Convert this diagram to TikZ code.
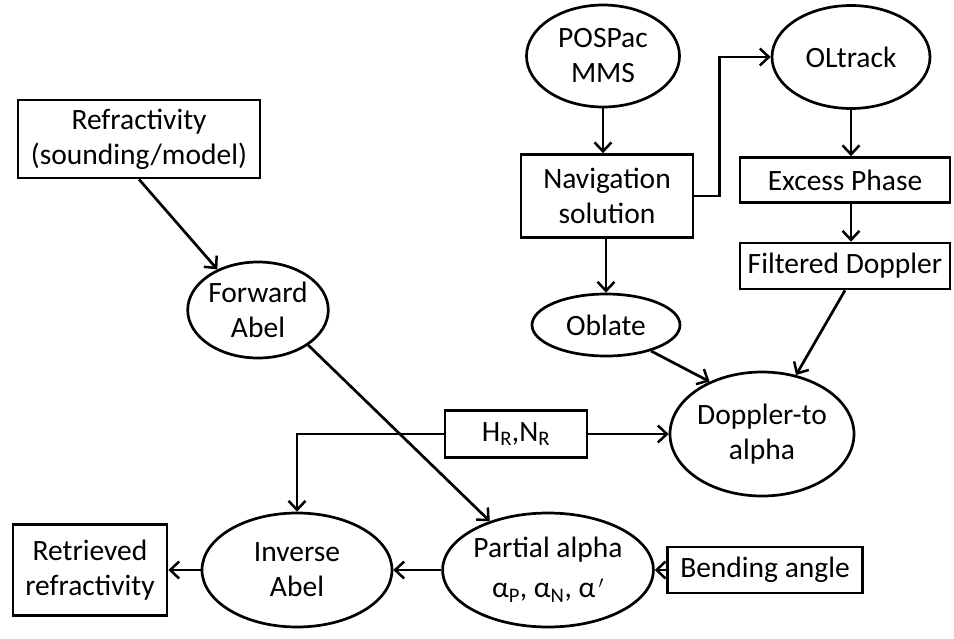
\documentclass[tikz,border=0pt]{standalone}
\usepackage{fontspec}
\setmainfont{Carlito}
\usetikzlibrary{shapes.geometric,arrows.meta}
\begin{document}
\begin{tikzpicture}[x=1pt,y=-1pt,
  every node/.style={font=\fontsize{29.5}{35}\selectfont, align=center, inner sep=0pt, line width=2.7pt, draw},
  boxnode/.style={rectangle},
  ellnode/.style={ellipse},
  arr/.style={line width=2.7pt, -{Straight Barb[length=9pt,width=17pt,line width=2.5pt]}}]
\useasboundingbox (0,0) rectangle (954,638);
\node[boxnode, minimum width=242pt, minimum height=78pt] (refr) at (139,139) {Refractivity\\(sounding/model)};
\node[ellnode, minimum width=140pt, minimum height=96pt] (fwd) at (258,310) {Forward\\Abel};
\node[ellnode, minimum width=153pt, minimum height=102pt] (pos) at (603,56) {POSPac\\MMS};
\node[ellnode, minimum width=158pt, minimum height=103pt] (olt) at (851,57) {OLtrack};
\node[boxnode, minimum width=172pt, minimum height=83pt] (nav) at (607,196) {Navigation\\solution};
\node[boxnode, minimum width=210pt, minimum height=45pt] (exc) at (845,180) {Excess Phase};
\node[boxnode, minimum width=210pt, minimum height=46pt] (fil) at (845,266) {Filtered Doppler};
\node[ellnode, minimum width=148pt, minimum height=62pt] (obl) at (606,325) {Oblate};
\node[ellnode, minimum width=184pt, minimum height=124pt] (dop) at (762,434) {Doppler-to\\alpha};
\node[boxnode, minimum width=142pt, minimum height=47pt] (hr) at (516,434) {H\textsubscript{R},N\textsubscript{R}};
\node[ellnode, minimum width=190pt, minimum height=114pt] (inv) at (297,570) {Inverse\\Abel};
\node[ellnode, minimum width=158pt, minimum height=114pt] (par) at (548,570) {Partial alpha\\[5pt]α\textsubscript{P}, α\textsubscript{N}, α\textsuperscript{\,\fontsize{16}{16}\selectfont$\prime$}};
\node[boxnode, minimum width=195pt, minimum height=46pt] (ben) at (765,570) {Bending angle};
\node[boxnode, minimum width=154pt, minimum height=91pt] (ret) at (90,570) {Retrieved\\refractivity};

\draw[arr] (refr.south) -- (fwd.135);
\draw[arr] (fwd.-35) -- (par.140);
\draw[arr] (pos.south) -- (pos.south |- nav.north);
\draw[arr] (nav.east) -- ++(25,0) |- (olt.west);
\draw[arr] (olt.south) -- (olt.south |- exc.north);
\draw[arr] (exc.south -| olt.south) -- (fil.north -| olt.south);
\draw[arr] (nav.south -| obl.north) -- (obl.north);
\draw[arr] (obl.-30) -- (dop.135);
\draw[arr] (fil.south) -- (dop.60);
\draw[arr] (hr.west) -| (inv.north);
\draw[arr] (hr.east) -- (dop.west);
\draw[arr] (par.west) -- (inv.east);
\draw[arr] (ben.west) -- (par.east);
\draw[arr] (inv.west) -- (ret.east);
\end{tikzpicture}
\end{document}
